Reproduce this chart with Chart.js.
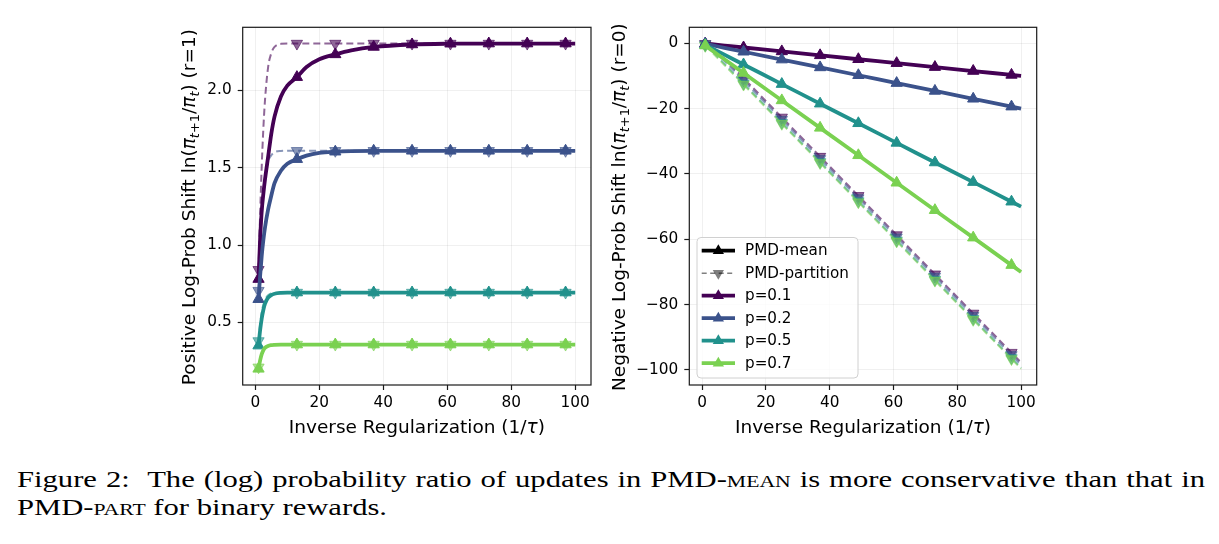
<!DOCTYPE html>
<html>
<head>
<meta charset="utf-8">
<script src="https://cdn.jsdelivr.net/npm/chart.js@4.4.1/dist/chart.umd.min.js"></script>
<style>
  html,body{margin:0;padding:0;background:#fff;}
  body{width:1219px;height:544px;position:relative;overflow:hidden;}
  canvas{position:absolute;top:0;}
  .cap{position:absolute;left:17px;font-family:"Liberation Serif","Times New Roman",serif;font-size:24px;line-height:28px;color:#000;white-space:nowrap;transform-origin:0 0;}
  .sc{font-variant:small-caps;}
  #cap1{top:464.8px;}
  #cap2{top:492.5px;}
</style>
</head>
<body>
<canvas id="left" width="430" height="440" style="left:170px"></canvas>
<canvas id="right" width="450" height="440" style="left:600px"></canvas>
<div class="cap" id="cap1"><span id="cap1s">Figure 2:&nbsp; The (log) probability ratio of updates in PMD-<span class="sc">mean</span> is more conservative than that in</span></div>
<div class="cap" id="cap2"><span id="cap2s">PMD-<span class="sc">part</span> for binary rewards.</span></div>
<script>
// ---------- data ----------
const P_LABELS = ['p=0.1', 'p=0.2', 'p=0.5', 'p=0.7'];
const MARK_X = [1, 13, 25, 37, 49, 61, 73, 85, 97];
const X_TICKS = [0, 20, 40, 60, 80, 100];
const Y_TICKS_POS = [0.5, 1.0, 1.5, 2.0];
const Y_TICKS_NEG = [-100, -80, -60, -40, -20, 0];

// left panel (r = 1)
const X_POS = [1, 1.5, 2, 2.5, 3, 4, 5, 6, 8, 10, 13, 16, 20, 25, 30, 37, 49, 61, 73, 85, 97, 100];
const POS_MEAN_P01 = [0.78, 1.04, 1.22, 1.33, 1.42, 1.57, 1.72, 1.83, 1.96, 2.03, 2.085, 2.15, 2.20, 2.232, 2.258, 2.28, 2.296, 2.301, 2.302, 2.302, 2.302, 2.302];
const POS_MEAN_P02 = [0.65, 0.80, 0.93, 1.03, 1.11, 1.23, 1.32, 1.40, 1.48, 1.525, 1.555, 1.578, 1.595, 1.603, 1.607, 1.609, 1.609, 1.609, 1.609, 1.609, 1.609, 1.609];
const POS_MEAN_P05 = [0.35, 0.45, 0.525, 0.58, 0.62, 0.66, 0.677, 0.685, 0.691, 0.693, 0.693, 0.693, 0.693, 0.693, 0.693, 0.693, 0.693, 0.693, 0.693, 0.693, 0.693, 0.693];
const POS_MEAN_P07 = [0.20, 0.255, 0.295, 0.32, 0.335, 0.348, 0.353, 0.355, 0.357, 0.357, 0.357, 0.357, 0.357, 0.357, 0.357, 0.357, 0.357, 0.357, 0.357, 0.357, 0.357, 0.357];
const POS_PART_P01 = [0.84, 1.20, 1.51, 1.75, 1.93, 2.15, 2.24, 2.28, 2.30, 2.302, 2.302, 2.302, 2.302, 2.302, 2.302, 2.302, 2.302, 2.302, 2.302, 2.302, 2.302, 2.302];
const POS_PART_P02 = [0.705, 0.97, 1.18, 1.325, 1.43, 1.54, 1.58, 1.60, 1.608, 1.609, 1.609, 1.609, 1.609, 1.609, 1.609, 1.609, 1.609, 1.609, 1.609, 1.609, 1.609, 1.609];
const POS_PART_P05 = [0.38, 0.49, 0.566, 0.614, 0.645, 0.675, 0.687, 0.691, 0.693, 0.693, 0.693, 0.693, 0.693, 0.693, 0.693, 0.693, 0.693, 0.693, 0.693, 0.693, 0.693, 0.693];
const POS_PART_P07 = [0.21, 0.265, 0.30, 0.322, 0.336, 0.349, 0.354, 0.356, 0.357, 0.357, 0.357, 0.357, 0.357, 0.357, 0.357, 0.357, 0.357, 0.357, 0.357, 0.357, 0.357, 0.357];

// right panel (r = 0)
const X_NEG = [1, 3, 5, 7, 13, 25, 37, 49, 61, 73, 85, 97, 100];
const NEG_MEAN_P01 = [-0.1, -0.3, -0.5, -0.7, -1.3, -2.5, -3.7, -4.9, -6.1, -7.3, -8.5, -9.7, -10];
const NEG_MEAN_P02 = [-0.2, -0.6, -1.0, -1.4, -2.6, -5.0, -7.4, -9.8, -12.2, -14.6, -17.0, -19.4, -20];
const NEG_MEAN_P05 = [-0.5, -1.5, -2.5, -3.5, -6.5, -12.5, -18.5, -24.5, -30.5, -36.5, -42.5, -48.5, -50];
const NEG_MEAN_P07 = [-0.7, -2.1, -3.5, -4.9, -9.1, -17.5, -25.9, -34.3, -42.7, -51.1, -59.5, -67.9, -70];
const NEG_PART_P01 = [-0.16, -1.07, -2.76, -4.71, -10.7, -22.7, -34.7, -46.7, -58.7, -70.7, -82.7, -94.7, -97.7];
const NEG_PART_P02 = [-0.30, -1.57, -3.42, -5.39, -11.39, -23.39, -35.39, -47.39, -59.39, -71.39, -83.39, -95.39, -98.39];
const NEG_PART_P05 = [-0.62, -2.36, -4.31, -6.31, -12.31, -24.31, -36.31, -48.31, -60.31, -72.31, -84.31, -96.31, -99.31];
const NEG_PART_P07 = [-0.79, -2.66, -4.65, -6.64, -12.64, -24.64, -36.64, -48.64, -60.64, -72.64, -84.64, -96.64, -99.64];

const LEGEND_LABELS = ['PMD-mean', 'PMD-partition'];

// ---------- styling ----------
const COLORS = ['#440154', '#3b528b', '#21918c', '#7ad151'];
const FONT = '"DejaVu Sans"';
Chart.defaults.font.family = FONT;
Chart.defaults.color = '#000';

function rgba(hex, a) {
  const n = parseInt(hex.slice(1), 16);
  return `rgba(${(n >> 16) & 255},${(n >> 8) & 255},${n & 255},${a})`;
}

function pts(xs, ys) { return xs.map((x, i) => ({ x: x, y: ys[i] })); }

const markerRadius = ctx => (ctx.raw && MARK_X.includes(ctx.raw.x)) ? 6.5 : 0;

function meanDS(label, xs, ys, color, order) {
  return {
    label, data: pts(xs, ys), borderColor: color, backgroundColor: color,
    borderWidth: 3.8, pointStyle: 'triangle', pointRadius: markerRadius,
    pointBackgroundColor: color, pointBorderColor: color, pointBorderWidth: 1,
    cubicInterpolationMode: 'monotone', order
  };
}
function partDS(label, xs, ys, color, order) {
  const c = rgba(color, 0.6);
  return {
    label, data: pts(xs, ys), borderColor: c, backgroundColor: c,
    borderWidth: 2, borderDash: [7, 4], pointStyle: 'triangle', pointRotation: 180,
    pointRadius: markerRadius, pointBackgroundColor: c, pointBorderColor: c, pointBorderWidth: 1,
    cubicInterpolationMode: 'monotone', order
  };
}

// rich text (sub-scripts / italic) for axis titles
function drawRich(ctx, segs, size, cx, cy, rotate) {
  ctx.save();
  ctx.translate(cx, cy);
  if (rotate) ctx.rotate(-Math.PI / 2);
  let total = 0;
  const items = segs.map(s => {
    const fs = s.sub ? size * 0.7 : size;
    const font = (s.it ? 'italic ' : '') + fs + 'px ' + FONT;
    ctx.font = font;
    const w = ctx.measureText(s.t).width;
    total += w;
    return Object.assign({}, s, { font, w });
  });
  let x = -total / 2;
  ctx.fillStyle = '#000';
  ctx.textBaseline = 'alphabetic';
  ctx.textAlign = 'left';
  const base = size * 0.36;
  for (const it of items) {
    ctx.font = it.font;
    ctx.fillText(it.t, x, base + (it.sub ? size * 0.22 : 0));
    x += it.w;
  }
  ctx.restore();
}

function yTitleSegs(prefix, r) {
  return [
    { t: prefix + ' ln(' }, { t: 'π', it: true }, { t: 't', it: true, sub: true }, { t: '+1', sub: true },
    { t: '/' }, { t: 'π', it: true }, { t: 't', it: true, sub: true }, { t: ') (r=' + r + ')' }
  ];
}
const X_TITLE_SEGS = [{ t: 'Inverse Regularization (1/' }, { t: 'τ', it: true }, { t: ')' }];

function framePlugin(ySegs, yTitleX) {
  return {
    id: 'frame',
    afterDatasetsDraw(chart) {
      const { ctx, chartArea: a } = chart;
      ctx.save();
      ctx.strokeStyle = '#1a1a1a';
      ctx.lineWidth = 1.2;
      ctx.strokeRect(a.left, a.top, a.right - a.left, a.bottom - a.top);
      ctx.restore();
    },
    afterDraw(chart) {
      const { ctx, chartArea: a } = chart;
      drawRich(ctx, ySegs, 18.5, yTitleX, (a.top + a.bottom) / 2 + 1, true);
      drawRich(ctx, X_TITLE_SEGS, 18.5, (a.left + a.right) / 2, 426.5, false);
    }
  };
}

const legendPlugin = {
  id: 'customLegend',
  afterDatasetsDraw(chart) {
    const ctx = chart.ctx;
    const box = { x: 97, y: 237.5, w: 161, h: 140.5 };
    ctx.save();
    ctx.beginPath();
    if (ctx.roundRect) ctx.roundRect(box.x, box.y, box.w, box.h, 4); else ctx.rect(box.x, box.y, box.w, box.h);
    ctx.fillStyle = 'rgba(255,255,255,0.8)';
    ctx.fill();
    ctx.strokeStyle = '#d0d0d0';
    ctx.lineWidth = 1;
    ctx.stroke();
    const items = [
      { label: LEGEND_LABELS[0], color: '#000', lw: 3.8, dash: [], down: false },
      { label: LEGEND_LABELS[1], color: 'rgba(0,0,0,0.5)', lw: 1.6, dash: [5, 3.5], down: true },
    ].concat(P_LABELS.map((l, i) => ({ label: l, color: COLORS[i], lw: 3.8, dash: [], down: false })));
    const x0 = 101.7, x1 = 135, tx = 145;
    items.forEach((it, i) => {
      const y = 250.7 + i * 22.5;
      ctx.setLineDash(it.dash);
      ctx.strokeStyle = it.color;
      ctx.lineWidth = it.lw;
      ctx.beginPath(); ctx.moveTo(x0, y); ctx.lineTo(x1, y); ctx.stroke();
      ctx.setLineDash([]);
      const r = 6.5, cx = (x0 + x1) / 2;
      ctx.beginPath();
      const s = it.down ? -1 : 1;
      ctx.moveTo(cx, y - s * r);
      ctx.lineTo(cx + r * 0.866, y + s * r * 0.5);
      ctx.lineTo(cx - r * 0.866, y + s * r * 0.5);
      ctx.closePath();
      ctx.fillStyle = it.color;
      ctx.fill();
      ctx.fillStyle = '#000';
      ctx.font = '15.2px ' + FONT;
      ctx.textBaseline = 'middle';
      ctx.textAlign = 'left';
      ctx.fillText(it.label, tx, y + 0.5);
    });
    ctx.restore();
  }
};

function makeScales(xmin, xmax, ymin, ymax, yTicks, yFmt, yWidth, xHeight) {
  const grid = { color: 'rgba(0,0,0,0.08)', lineWidth: 0.8, tickColor: '#1a1a1a', tickLength: 5, tickWidth: 1.2, drawTicks: true };
  return {
    x: {
      type: 'linear', min: xmin, max: xmax,
      afterBuildTicks: s => { s.ticks = X_TICKS.map(v => ({ value: v })); },
      afterFit: s => { s.height = xHeight; },
      grid, border: { display: false },
      ticks: { font: { size: 15.3 }, color: '#000', padding: 4, maxRotation: 0, autoSkip: false, callback: v => String(v) }
    },
    y: {
      type: 'linear', min: ymin, max: ymax,
      afterBuildTicks: s => { s.ticks = yTicks.map(v => ({ value: v })); },
      afterFit: s => { s.width = yWidth; },
      grid, border: { display: false },
      ticks: { font: { size: 15.3 }, color: '#000', padding: 6, autoSkip: false, callback: yFmt }
    }
  };
}

const baseOpts = {
  responsive: false, animation: false, devicePixelRatio: 1,
  plugins: { legend: { display: false }, tooltip: { enabled: false } },
  elements: { line: { fill: false } }
};

// left chart
new Chart(document.getElementById('left'), {
  type: 'line',
  data: {
    datasets: [
      meanDS(P_LABELS[0], X_POS, POS_MEAN_P01, COLORS[0], 13),
      meanDS(P_LABELS[1], X_POS, POS_MEAN_P02, COLORS[1], 12),
      meanDS(P_LABELS[2], X_POS, POS_MEAN_P05, COLORS[2], 11),
      meanDS(P_LABELS[3], X_POS, POS_MEAN_P07, COLORS[3], 10),
      partDS(P_LABELS[0], X_POS, POS_PART_P01, COLORS[0], 23),
      partDS(P_LABELS[1], X_POS, POS_PART_P02, COLORS[1], 22),
      partDS(P_LABELS[2], X_POS, POS_PART_P05, COLORS[2], 21),
      partDS(P_LABELS[3], X_POS, POS_PART_P07, COLORS[3], 20)
    ]
  },
  options: Object.assign({}, baseOpts, {
    layout: { padding: { top: 27.3, right: 9, left: 0, bottom: 0 } },
    scales: makeScales(-3.95, 104.95, 0.0955, 2.407, Y_TICKS_POS, v => v.toFixed(1), 72.7, 55)
  }),
  plugins: [framePlugin(yTitleSegs('Positive Log-Prob Shift', 1), 18)]
});

// right chart
new Chart(document.getElementById('right'), {
  type: 'line',
  data: {
    datasets: [
      meanDS(P_LABELS[0], X_NEG, NEG_MEAN_P01, COLORS[0], 13),
      meanDS(P_LABELS[1], X_NEG, NEG_MEAN_P02, COLORS[1], 12),
      meanDS(P_LABELS[2], X_NEG, NEG_MEAN_P05, COLORS[2], 11),
      meanDS(P_LABELS[3], X_NEG, NEG_MEAN_P07, COLORS[3], 10),
      partDS(P_LABELS[0], X_NEG, NEG_PART_P01, COLORS[0], 23),
      partDS(P_LABELS[1], X_NEG, NEG_PART_P02, COLORS[1], 22),
      partDS(P_LABELS[2], X_NEG, NEG_PART_P05, COLORS[2], 21),
      partDS(P_LABELS[3], X_NEG, NEG_PART_P07, COLORS[3], 20)
    ]
  },
  options: Object.assign({}, baseOpts, {
    layout: { padding: { top: 27.3, right: 13.3, left: 0, bottom: 0 } },
    scales: makeScales(-4.0, 104.9, -104.6, 4.88, Y_TICKS_NEG, v => v < 0 ? '\u2212' + Math.abs(v) : String(v), 89.3, 55)
  }),
  plugins: [framePlugin(yTitleSegs('Negative Log-Prob Shift', 0), 18), legendPlugin]
});

// ---------- caption fitting (horizontal scale + word spacing) ----------
(function fitCaption() {
  const s1 = document.getElementById('cap1s'), s2 = document.getElementById('cap2s');
  const w2 = s2.getBoundingClientRect().width;
  const k = 370 / w2;
  const w1 = s1.getBoundingClientRect().width;
  const nSpaces = (s1.textContent.match(/[ \u00a0]/g) || []).length;
  const extra = (1188 / k - w1) / nSpaces;
  s1.style.wordSpacing = extra + 'px';
  document.getElementById('cap1').style.transform = 'scaleX(' + k + ')';
  document.getElementById('cap2').style.transform = 'scaleX(' + k + ')';
})();
</script>
</body>
</html>
